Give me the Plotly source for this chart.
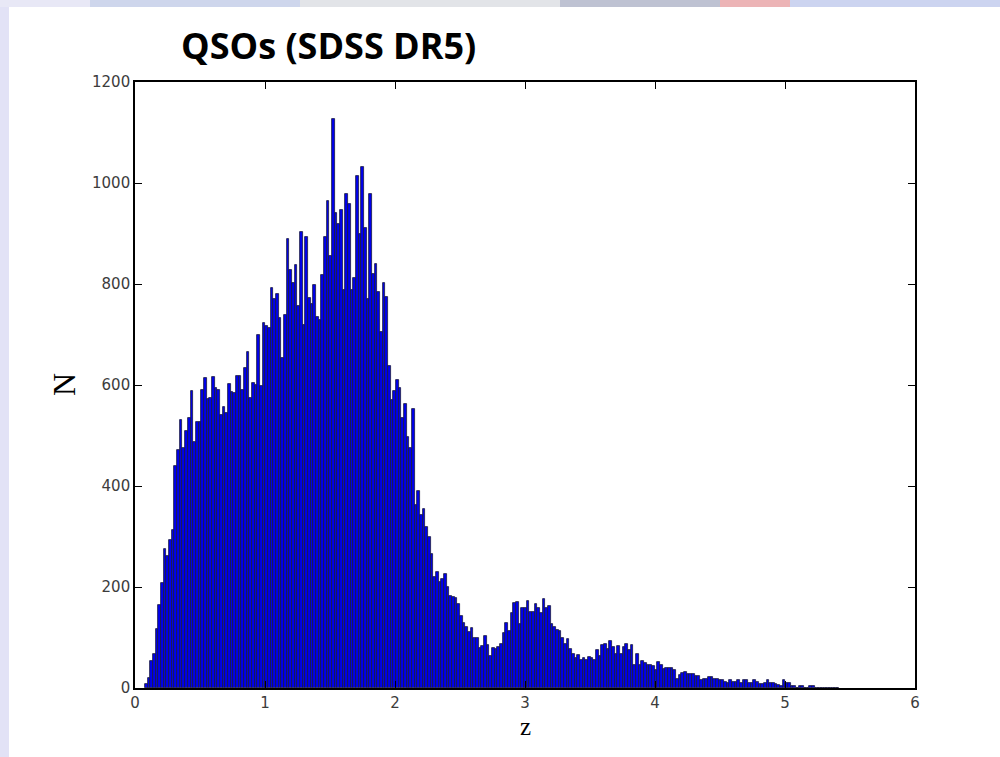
import plotly.graph_objects as go

# ---- data ----
z_first_edge = 0.078
bin_width = 0.020523

counts = [
    8, 19, 54, 68, 116, 164, 207, 276, 262, 294,
    312, 440, 472, 530, 475, 509, 535, 589, 487, 527,
    527, 590, 613, 573, 575, 615, 595, 590, 540, 556,
    545, 602, 587, 585, 618, 618, 590, 633, 665, 575,
    603, 600,
    699, 599, 722, 717, 712, 792, 770, 780, 732, 653,
    739, 890, 827, 802, 837, 757, 902, 719, 894, 772,
    760, 799, 734, 729, 817, 894, 964, 855, 1126, 940,
    919, 946, 789, 979, 959, 789, 812, 1014, 900, 1032,
    911, 770, 979, 820, 839, 785, 704, 802, 774,
    637, 570, 588, 610, 595, 535, 562, 497, 476, 552,
    362, 390, 342, 355, 318, 299, 265, 220, 230, 210,
    216, 225, 200, 183, 181, 178, 166, 143, 128, 120,
    110, 118, 100, 100, 80, 84, 102, 85, 63, 79,
    77, 81, 87, 108, 128, 113, 148, 169,
    171, 126, 159, 159, 173, 150, 150, 167, 158, 148,
    176, 158, 163, 126, 120, 115, 113, 100, 88, 98,
    78, 68, 59, 65, 55, 59, 55, 61, 59, 55,
    76, 63, 85, 88, 78, 93, 82, 68, 83, 68,
    81, 88, 75, 85, 45, 68, 45, 54, 50, 45,
    45, 44, 36, 52,
    45, 37, 39, 40, 40, 35, 17, 26, 29, 31,
    27, 27, 27, 24, 24, 16, 17, 17, 21, 21,
    18, 18, 16, 16, 12, 10, 15, 12, 12, 15,
    10, 16, 15, 10, 9, 15, 12, 7, 7, 10,
    15, 9, 9, 7, 5, 4, 16, 10, 10, 3,
    3, 1, 4, 3, 1, 1, 4, 3, 1, 1,
    1, 1, 1, 0, 1, 0, 1,
]

x_ticks = [0, 1, 2, 3, 4, 5, 6]
y_ticks = [0, 200, 400, 600, 800, 1000, 1200]
title_text = "QSOs (SDSS DR5)"
x_label = "z"
y_label = "N"

centers = [z_first_edge + bin_width * (i + 0.5) for i in range(len(counts))]

fig = go.Figure()
fig.add_trace(go.Bar(
    x=centers, y=counts, width=bin_width,
    marker=dict(color="rgb(0,0,235)",
                line=dict(color="rgb(28,28,62)", width=0.8)),
    showlegend=False, hoverinfo="x+y",
))

W, H = 1000, 757
L, R, T, B = 135, 85, 82, 69

axis_common = dict(
    showgrid=False, zeroline=False, showline=True, linecolor="black",
    linewidth=1.6, mirror="allticks", ticks="inside", ticklen=7,
    tickwidth=1, tickcolor="black",
    tickfont=dict(family="DejaVu Sans", size=15, color="#3c3c3c"),
)

fig.update_layout(
    width=W, height=H,
    margin=dict(l=L, r=R, t=T, b=B, pad=0),
    paper_bgcolor="white", plot_bgcolor="white",
    bargap=0,
    xaxis=dict(range=[0, 6], tickvals=x_ticks, ticktext=[str(v) for v in x_ticks],
               **axis_common),
    yaxis=dict(range=[0, 1200], tickvals=y_ticks, ticktext=[str(v) for v in y_ticks],
               **axis_common),
    font=dict(family="DejaVu Sans"),
)

pw, ph = W - L - R, H - T - B


def px(xp):
    return (xp - L) / pw


def py(yp):
    return (H - B - yp) / ph


# slide-like background strips
shapes = []
shapes.append(dict(type="rect", xref="paper", yref="paper",
                   x0=px(0), x1=px(9), y0=py(H), y1=py(0),
                   fillcolor="rgb(226,226,246)", line=dict(width=0), layer="below"))
top_cols = [(0, 90, "rgb(232,232,246)"), (90, 300, "rgb(206,214,236)"),
            (300, 560, "rgb(226,228,232)"), (560, 720, "rgb(190,194,210)"),
            (720, 790, "rgb(236,180,182)"), (790, 1000, "rgb(204,212,240)")]
for a, b, c in top_cols:
    shapes.append(dict(type="rect", xref="paper", yref="paper",
                       x0=px(a), x1=px(b), y0=py(7), y1=py(0),
                       fillcolor=c, line=dict(width=0), layer="below"))
fig.update_layout(shapes=shapes)

fig.add_annotation(text="<b>" + title_text + "</b>", xref="paper", yref="paper",
                   x=px(179), y=py(46), xanchor="left", yanchor="middle",
                   showarrow=False,
                   font=dict(family="Open Sans", size=36, color="black"))
fig.add_annotation(text=x_label, xref="paper", yref="paper",
                   x=px(525), y=py(726), xanchor="center", yanchor="middle",
                   showarrow=False,
                   font=dict(family="Liberation Serif", size=25, color="black"))
fig.add_annotation(text=y_label, xref="paper", yref="paper",
                   x=px(64), y=py(385), xanchor="center", yanchor="middle",
                   textangle=-90, showarrow=False,
                   font=dict(family="Liberation Serif", size=32, color="black"))

fig.write_html("out.html")
